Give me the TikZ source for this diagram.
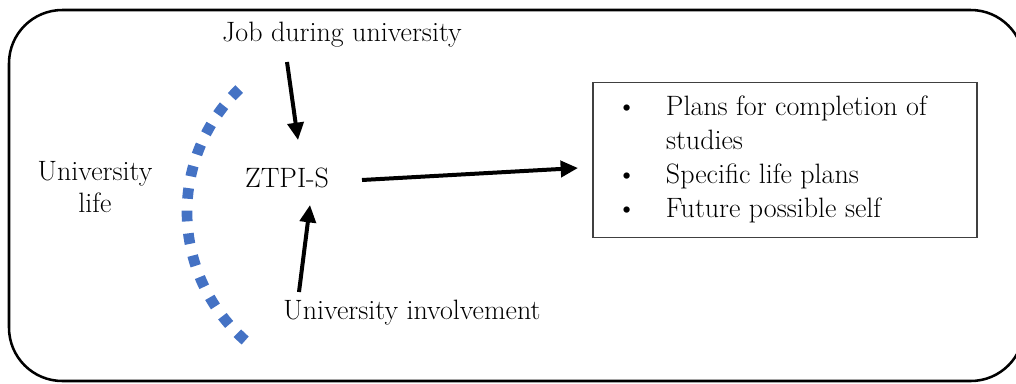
\documentclass[tikz,border=0pt]{standalone}
\usetikzlibrary{arrows.meta,calc}

\tikzset{every picture/.style={line width=0.75pt}}
\tikzset{
  lbl/.style={inner sep=0.75pt, align=center, font=\fontsize{21}{24}\selectfont},
  bigarrow/.style={line width=3pt, -{Triangle[length=13pt,width=12pt]}},
  outbox/.style={draw={rgb, 255:red, 64; green, 64; blue, 64}, line width=0.9pt, minimum width=288pt, minimum height=116pt, inner sep=0pt},
}
\definecolor{arcblue}{RGB}{68,114,196}

\begin{document}
\begin{tikzpicture}[x=0.75pt,y=0.75pt,yscale=-1,xscale=1]
\useasboundingbox (0,0) rectangle (1016,383);
\clip (0,0) rectangle (1016,383);
%Rounded Rect [id:frame]
\draw [line width=1.9pt, rounded corners=40pt] (9,10) rectangle (1024,381);
%Arc [id:dotted arc]
\draw [color=arcblue, line width=8pt, dash pattern=on 8pt off 9pt] (358,212) ++(226:171) arc [start angle=226, end angle=131, radius=171];

% Text Node
\node [lbl] (unilife) at (95,187) {University\\life};
% Text Node
\node [lbl] (ztpi) at (287,178) {ZTPI-S};
% Text Node
\node [lbl] (job) at (342,35) {Job during university};
% Text Node
\node [lbl] (involve) at (412,313) {University involvement};
%Shape: Rectangle [id:outcomes]
\node [outbox, font=\fontsize{21}{25.5}\selectfont] (outcomes) at (785,160)
  {\begin{tabular}{@{}l@{\hspace{22pt}}l@{}}
   \textbullet & Plans for completion of\\
               & studies\\
   \textbullet & Specific life plans\\
   \textbullet & Future possible self
   \end{tabular}\kern20pt\null};

%Straight Lines [id:job to ztpi]
\draw [bigarrow] ($(job.center)+(-55,27)$) -- ($(ztpi.center)+(11,-38)$);
%Straight Lines [id:involve to ztpi]
\draw [bigarrow] ($(involve.center)+(-113,-21)$) -- ($(ztpi.center)+(23,27)$);
%Straight Lines [id:ztpi to outcomes]
\draw [bigarrow] ($(ztpi.center)+(75,2)$) -- ($(outcomes.center)+(-207,8)$);
\end{tikzpicture}
\end{document}
